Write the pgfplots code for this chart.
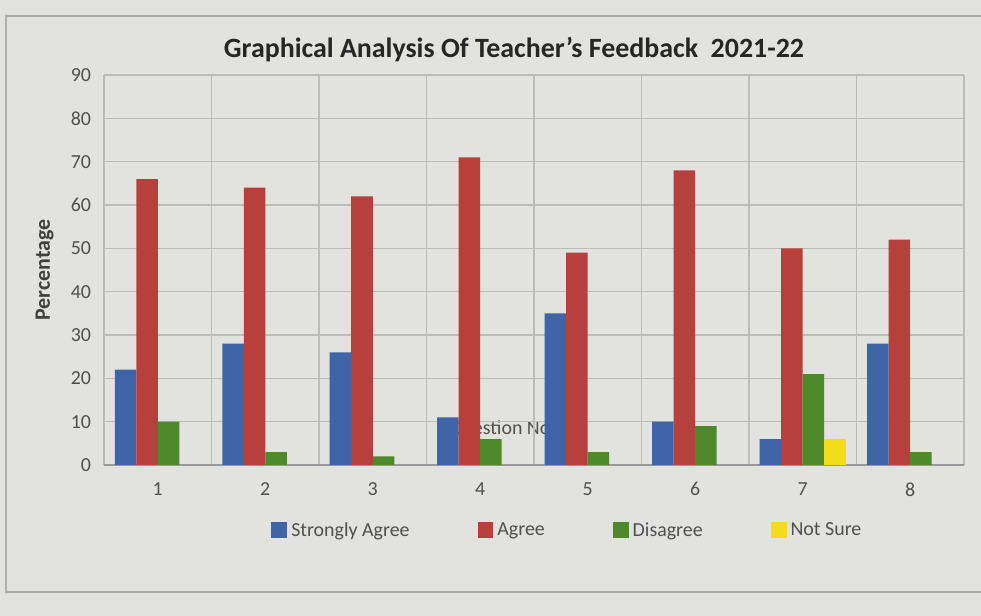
\documentclass[border=0pt]{standalone}
\usepackage{pgfplots}
\pgfplotsset{compat=1.18}
\usepackage{fontspec}
\setmainfont{Carlito}
\definecolor{sa}{HTML}{3F65A8}
\definecolor{ag}{HTML}{B8403C}
\definecolor{di}{HTML}{4E8A2C}
\definecolor{ns}{HTML}{F2DC1C}
\definecolor{bg}{HTML}{E2E2DE}
\definecolor{gridc}{HTML}{BDBDB8}
\definecolor{txt}{HTML}{505050}
\begin{document}
\begin{tikzpicture}
\path[use as bounding box, fill=bg] (0,0) rectangle (490.5bp,308bp);
\draw[gray!65, line width=0.8pt] (3bp,12bp) rectangle (500bp,300bp);
% axis title "Question No." sits behind the bars, as in the reference
\node[anchor=west, text=txt, font=\fontsize{10}{12}\selectfont] at (221bp,93.5bp) {Question No.};
\begin{axis}[
  at={(52bp,75.5bp)}, anchor=south west,
  width=430bp, height=195bp, scale only axis,
  ybar=0pt, bar width=10.75bp,
  xmin=0.5, xmax=8.5, ymin=0, ymax=90,
  xtick={1,...,8}, minor xtick={0.5,1.5,...,8.5},
  ytick={0,10,...,90},
  xmajorgrids=false, xminorgrids=true, ymajorgrids=true,
  grid style={gridc, line width=0.6pt},
  minor grid style={gridc, line width=0.6pt},
  axis x line*=bottom, axis y line*=left,
  x axis line style={draw=gray!80, line width=0.8pt, -},
  y axis line style={draw=none},
  tick style={draw=none},
  ylabel={\textbf{Percentage}},
  ylabel style={at={(axis description cs:-0.069,0.5)}, anchor=center, text=black!75, font=\fontsize{11}{13}\selectfont},
  tick label style={font=\fontsize{10}{12}\selectfont, text=txt},
  yticklabel style={xshift=-3bp},
  xticklabel style={yshift=-1bp},
  /pgf/number format/assume math mode=true,
  legend style={at={(0.54,-0.126)}, anchor=north, legend columns=4, draw=none, fill=none,
    font=\fontsize{10}{12}\selectfont, text=txt,
    /tikz/every even column/.append style={column sep=32bp}},
  legend image code/.code={\fill[#1] (0cm,-0.12cm) rectangle (0.28cm,0.16cm);},
]
\addplot[fill=sa, draw=none] coordinates {(1,22) (2,28) (3,26) (4,11) (5,35) (6,10) (7,6) (8,28)};
\addplot[fill=ag, draw=none] coordinates {(1,66) (2,64) (3,62) (4,71) (5,49) (6,68) (7,50) (8,52)};
\addplot[fill=di, draw=none] coordinates {(1,10) (2,3) (3,2) (4,6) (5,3) (6,9) (7,21) (8,3)};
\addplot[fill=ns, draw=none] coordinates {(7,6)};
\legend{Strongly Agree, Agree, Disagree, Not Sure}
\end{axis}
\node[font=\bfseries\fontsize{14}{17}\selectfont, text=black!85] at (257bp,283bp) {Graphical Analysis Of Teacher's Feedback\ \ 2021-22};
\end{tikzpicture}
\end{document}
